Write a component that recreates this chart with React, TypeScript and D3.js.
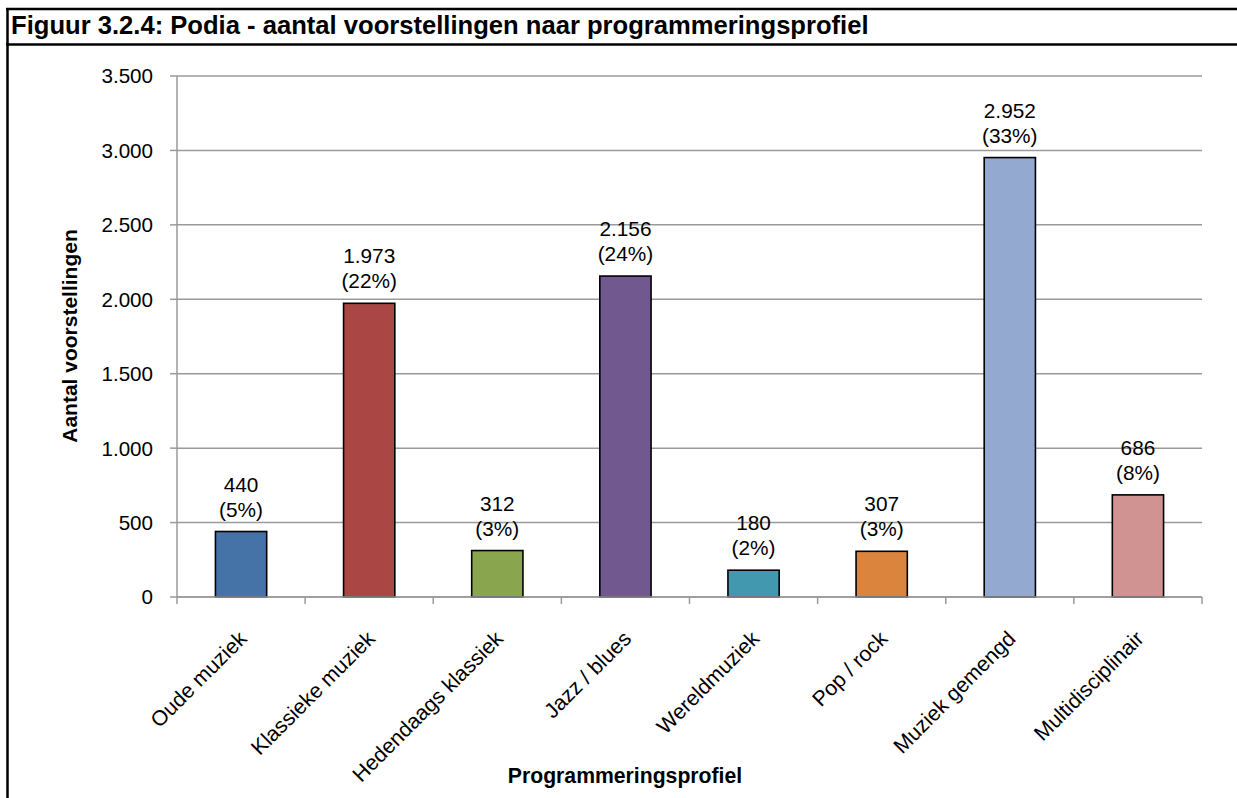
import React from "react";
import * as d3 from "d3";

const categories = [
  "Oude muziek",
  "Klassieke muziek",
  "Hedendaags klassiek",
  "Jazz / blues",
  "Wereldmuziek",
  "Pop / rock",
  "Muziek gemengd",
  "Multidisciplinair",
];
const values = [440, 1973, 312, 2156, 180, 307, 2952, 686];
const valueLabels = ["440", "1.973", "312", "2.156", "180", "307", "2.952", "686"];
const percentLabels = ["(5%)", "(22%)", "(3%)", "(24%)", "(2%)", "(3%)", "(33%)", "(8%)"];
const barColors = ["#4572A7", "#AA4643", "#89A54E", "#71588F", "#4198AF", "#DB843D", "#93A9CF", "#D19392"];
const yTicks = [0, 500, 1000, 1500, 2000, 2500, 3000, 3500];
const yTickLabels = ["0", "500", "1.000", "1.500", "2.000", "2.500", "3.000", "3.500"];

const title = "Figuur 3.2.4: Podia - aantal voorstellingen naar programmeringsprofiel";
const yTitle = "Aantal voorstellingen";
const xTitle = "Programmeringsprofiel";

const W = 1237;
const H = 798;
const FONT = "'Liberation Sans', Arial, Helvetica, sans-serif";

export default function App() {
  const left = 177;
  const right = 1202;
  const top = 76;
  const bottom = 597;

  const x = d3.scaleBand<string>().domain(categories).range([left, right]).padding(0);
  const y = d3.scaleLinear().domain([0, 3500]).range([bottom, top]);
  const step = x.step();
  const barW = step * 0.4;
  const gridColor = "#9a9a9a";

  const boundaries = d3.range(categories.length + 1).map((i) => left + i * step);

  return (
    <svg width={W} height={H} style={{ position: "absolute", left: 0, top: 0 }} fontFamily={FONT}>
      <rect x={0} y={0} width={W} height={H} fill="#fff" />
      {/* frame */}
      <line x1={6} x2={W} y1={9} y2={9} stroke="#000" strokeWidth={2.5} />
      <line x1={6} x2={W} y1={44.5} y2={44.5} stroke="#000" strokeWidth={2.5} />
      <line x1={7.5} x2={7.5} y1={8} y2={H} stroke="#000" strokeWidth={2.5} />
      <text x={11} y={34} fontSize={25.6} fontWeight="bold" fill="#000">
        {title}
      </text>

      {/* gridlines */}
      {yTicks.map((t) => (
        <line key={"g" + t} x1={left} x2={right} y1={y(t)} y2={y(t)} stroke={gridColor} strokeWidth={1.5} />
      ))}
      {/* y axis */}
      <line x1={left} x2={left} y1={top} y2={bottom} stroke={gridColor} strokeWidth={1.5} />
      {yTicks.map((t, i) => (
        <g key={"yt" + t}>
          <line x1={left - 7} x2={left} y1={y(t)} y2={y(t)} stroke={gridColor} strokeWidth={1.5} />
          <text x={153} y={y(t)} dy="0.36em" textAnchor="end" fontSize={20.6} fill="#000">
            {yTickLabels[i]}
          </text>
        </g>
      ))}
      {/* x ticks */}
      {boundaries.map((bx, i) => (
        <line key={"xt" + i} x1={bx} x2={bx} y1={bottom} y2={bottom + 7} stroke={gridColor} strokeWidth={1.5} />
      ))}

      {/* bars */}
      {categories.map((c, i) => {
        const cx = (x(c) as number) + step / 2;
        const yTop = y(values[i]);
        return (
          <g key={c}>
            <rect
              x={cx - barW / 2}
              y={yTop}
              width={barW}
              height={bottom - yTop}
              fill={barColors[i]}
              stroke="#000"
              strokeWidth={1.6}
            />
            <text x={cx} y={yTop - 40} textAnchor="middle" fontSize={20.8} fill="#000">
              {valueLabels[i]}
            </text>
            <text x={cx} y={yTop - 15} textAnchor="middle" fontSize={20.8} fill="#000">
              {percentLabels[i]}
            </text>
            <text
              transform={`translate(${cx + 7},${bottom + 43}) rotate(-45)`}
              textAnchor="end"
              fontSize={21.3}
              fill="#000"
            >
              {c}
            </text>
          </g>
        );
      })}
      {/* x axis line */}
      <line x1={left} x2={right} y1={bottom} y2={bottom} stroke={gridColor} strokeWidth={1.5} />

      {/* axis titles */}
      <text transform={`translate(77,336) rotate(-90)`} textAnchor="middle" fontSize={21} fontWeight="bold" fill="#000">
        {yTitle}
      </text>
      <text x={625} y={783} textAnchor="middle" fontSize={21.2} fontWeight="bold" fill="#000">
        {xTitle}
      </text>
    </svg>
  );
}
